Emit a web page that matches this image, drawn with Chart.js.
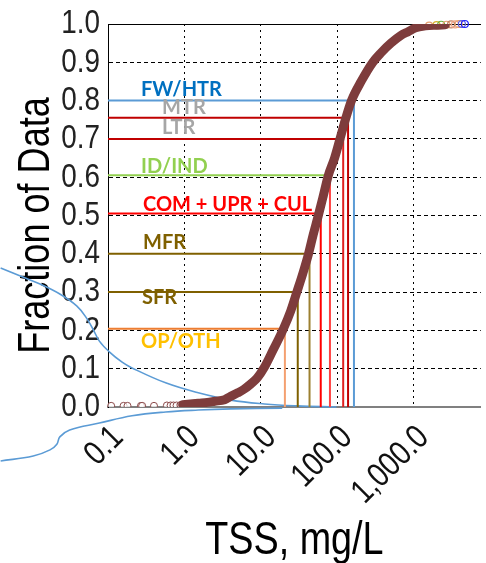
<!DOCTYPE html>
<html>
<head>
<meta charset="utf-8">
<script src="https://cdn.jsdelivr.net/npm/chart.js@4/dist/chart.umd.min.js"></script>
<style>
  html, body { margin: 0; padding: 0; background: #fff; overflow: hidden; }
  #wrap { width: 486px; height: 563px; position: relative; }
</style>
</head>
<body>
<div id="wrap"><canvas id="c" width="486" height="563"></canvas></div>
<script>
// ---- cumulative distribution of TSS (mg/L) ----
const cdfTSS  = [0.95, 1.2, 1.52, 2.0, 2.5, 3.36, 4.05, 5.0, 6.0, 7.4, 9.0, 11.1, 14.6, 19.7, 24.6, 29.8, 35.7, 42.2, 48.6, 56.7, 65.6, 76.5, 92.5, 110, 128, 154, 206, 293, 376, 506, 682, 850, 1065, 1430, 1930, 2600];
const cdfFrac = [0.006, 0.008, 0.010, 0.012, 0.015, 0.019, 0.028, 0.037, 0.046, 0.060, 0.076, 0.103, 0.150, 0.203, 0.250, 0.301, 0.350, 0.400, 0.450, 0.500, 0.550, 0.604, 0.650, 0.703, 0.750, 0.800, 0.850, 0.900, 0.925, 0.950, 0.970, 0.980, 0.990, 0.995, 0.997, 0.998];

// sparse low-concentration samples
const lowTSS  = [0.11, 0.16, 0.18, 0.27, 0.28, 0.40, 0.59, 0.66, 0.72, 0.79, 0.89, 1.02, 1.15, 1.3];
const lowFrac = [0.003, 0.003, 0.003, 0.003, 0.003, 0.003, 0.004, 0.004, 0.004, 0.004, 0.005, 0.005, 0.006, 0.007];

// high-concentration tail
const tailTSS  = [1600, 2000, 2300, 2700, 3100, 3500, 3900, 4300, 4700];
const tailFrac = [0.996, 0.997, 0.998, 0.998, 0.999, 0.999, 1.0, 1.0, 1.0];

// land-use classes and their reading levels
const classNames    = ['FW/HTR', 'MTR', 'LTR', 'ID/IND', 'COM + UPR + CUL', 'MFR', 'SFR', 'OP/OTH'];
const classFraction = [0.80, 0.755, 0.70, 0.605, 0.505, 0.40, 0.30, 0.204];
const classTSS      = [166, 139, 120, 80.5, 61.0, 43.5, 30.5, 20.7];

// callout bracket outline (data units)
const calloutUpperX = [0.00393, 0.00712, 0.0129, 0.0234, 0.0389, 0.0524, 0.0645, 0.0771, 0.104, 0.153, 0.206, 0.568, 1.52, 4.06, 11.2, 29.8, 98];
const calloutUpperY = [0.363, 0.342, 0.321, 0.295, 0.264, 0.232, 0.201, 0.172, 0.144, 0.117, 0.102, 0.063, 0.037, 0.018, 0.008, 0.003, 0.0];
const calloutLowerX = [0.00393, 0.0105, 0.0174, 0.0214, 0.0234, 0.0315, 0.0771, 0.206, 0.568, 1.52, 4.06, 19.1];
const calloutLowerY = [-0.141, -0.128, -0.112, -0.097, -0.078, -0.060, -0.042, -0.023, -0.013, -0.008, -0.005, -0.003];

// axis ticks
const xTickValues = [0.1, 1, 10, 100, 1000];
const xTickLabels = ['0.1', '1.0', '10.0', '100.0', '1,000.0'];
const yTickLabels = ['0.0', '0.1', '0.2', '0.3', '0.4', '0.5', '0.6', '0.7', '0.8', '0.9', '1.0'];

// ---- styling ----
// axis text is set in a condensed Arial-metric face: glyphs are narrowed at draw time
const NARROW = "'Liberation Sans', Arial, sans-serif";
const NARROW_FACTOR = 0.82;
(function () {
  const proto = CanvasRenderingContext2D.prototype;
  const fill = proto.fillText;
  proto.fillText = function (text, x, y, maxWidth) {
    if (this.font.indexOf('Liberation Sans') !== -1) {
      const w = this.measureText(text).width * NARROW_FACTOR;
      return fill.call(this, text, x, y, maxWidth !== undefined ? Math.min(maxWidth, w) : w);
    }
    return maxWidth !== undefined ? fill.call(this, text, x, y, maxWidth) : fill.call(this, text, x, y);
  };
})();

const LABEL_FONT = "bold 20px Lato, 'Open Sans', sans-serif";
const classStyle = [
  { line: '#5b9bd5', drop: '#5b9bd5', text: '#0070c0', dx: 33, dy: -11 },
  { line: '#c00000', drop: '#c00000', text: '#a6a6a6', dx: 54, dy: -10 },
  { line: '#c00000', drop: '#e02020', text: '#a6a6a6', dx: 54, dy: -11 },
  { line: '#92d050', drop: '#ff4040', text: '#92d050', dx: 33, dy: -9 },
  { line: '#ff0000', drop: '#ff0000', text: '#ff0000', dx: 35, dy: -9 },
  { line: '#7f6000', drop: '#9c8030', text: '#7f6000', dx: 35, dy: -11 },
  { line: '#7f6000', drop: '#7f6000', text: '#7f6000', dx: 34, dy: 5 },
  { line: '#ed7d31', drop: '#f4a070', text: '#ffc000', dx: 33, dy: 13 }
];
const tailColors = ['#e8a070', '#d9b030', '#70b040', '#e8a070', '#c08060', '#f0a080', '#e8a070', '#6060e0', '#2020ff'];

const pairs = (xs, ys) => xs.map((x, i) => ({ x: x, y: ys[i] }));

const datasets = [];

// callout outline, behind everything
datasets.push({
  data: pairs(calloutUpperX, calloutUpperY), showLine: true, borderColor: '#5b9bd5',
  borderWidth: 1.6, pointRadius: 0, tension: 0.4, clip: false, order: 3
});
datasets.push({
  data: pairs(calloutLowerX, calloutLowerY), showLine: true, borderColor: '#5b9bd5',
  borderWidth: 1.6, pointRadius: 0, tension: 0.4, clip: false, order: 3
});

// class reading lines: across from the axis, then down to zero
classNames.forEach((name, i) => {
  const st = classStyle[i];
  datasets.push({
    label: name,
    data: [
      { x: 0.1, y: classFraction[i] },
      { x: classTSS[i], y: classFraction[i] },
      { x: classTSS[i], y: 0 }
    ],
    showLine: true, pointRadius: 0, borderWidth: 2, tension: 0,
    borderColor: st.line,
    segment: { borderColor: ctx => ctx.p0DataIndex === 0 ? st.line : st.drop },
    order: 2
  });
});

// cumulative curve
datasets.push({
  label: 'CDF', data: pairs(cdfTSS, cdfFrac), showLine: true,
  borderColor: '#7e3c3c', borderWidth: 9, pointRadius: 0,
  cubicInterpolationMode: 'monotone', borderCapStyle: 'round', order: 0
});
datasets.push({
  label: 'low', data: pairs(lowTSS, lowFrac), showLine: false,
  pointRadius: 3.5, pointBorderColor: '#8b4a4a', pointBackgroundColor: 'rgba(255,255,255,0.7)',
  pointBorderWidth: 1, order: 0
});
datasets.push({
  label: 'tail', data: pairs(tailTSS, tailFrac), showLine: false,
  pointRadius: 3.5, pointBorderColor: tailColors, pointBackgroundColor: 'rgba(255,255,255,0)',
  pointBorderWidth: 1.2, order: 0, clip: false
});

// class name annotations
const classLabels = {
  id: 'classLabels',
  afterDatasetsDraw(chart) {
    const { ctx, chartArea, scales } = chart;
    ctx.save();
    ctx.font = LABEL_FONT;
    ctx.textAlign = 'left';
    ctx.textBaseline = 'middle';
    classNames.forEach((name, i) => {
      const st = classStyle[i];
      ctx.fillStyle = st.text;
      ctx.fillText(name, chartArea.left + st.dx, scales.y.getPixelForValue(classFraction[i]) + st.dy);
    });
    ctx.restore();
  }
};

const noEdgePadding = s => { s.paddingTop = 0; s.paddingBottom = 0; s.paddingLeft = 0; s.paddingRight = 0; };

new Chart(document.getElementById('c'), {
  type: 'scatter',
  data: { datasets: datasets },
  plugins: [classLabels],
  options: {
    responsive: false,
    animation: false,
    devicePixelRatio: 1,
    layout: { padding: { top: 24, right: 0, bottom: 0, left: 0 } },
    plugins: { legend: { display: false }, tooltip: { enabled: false } },
    scales: {
      x: {
        type: 'logarithmic',
        position: 'bottom',
        bounds: 'data',
        afterDataLimits: s => { s.min = 0.1; s.max = 7600; },
        afterBuildTicks: s => { s.ticks = xTickValues.map(v => ({ value: v, major: true })); },
        afterFit: s => { s.height = 156; noEdgePadding(s); },
        grid: { color: '#000', lineWidth: 1, drawTicks: false },
        border: { display: true, color: '#808080', width: 2, dash: [2, 4] },
        ticks: {
          autoSkip: false, minRotation: 45, maxRotation: 45, padding: 11, labelOffset: 10,
          color: '#111', font: { family: NARROW, size: 34 },
          callback: (v, i) => xTickLabels[i]
        },
        title: {
          display: true, text: 'TSS, mg/L', color: '#000',
          font: { family: NARROW, size: 46, lineHeight: 0.95 }, padding: { top: 0, bottom: 0 }
        }
      },
      x2: {
        type: 'linear', position: 'top', min: 0, max: 1,
        afterFit: s => { s.height = 0; noEdgePadding(s); },
        ticks: { display: false }, grid: { display: false, drawTicks: false },
        border: { display: true, color: '#000', width: 1 }
      },
      y: {
        type: 'linear', min: 0, max: 1,
        afterFit: s => { s.width = 108; noEdgePadding(s); },
        grid: { color: '#000', lineWidth: 1, drawTicks: false },
        border: { display: true, color: '#000', width: 1, dash: [4, 3] },
        ticks: {
          autoSkip: false, stepSize: 0.1, padding: 8, color: '#222',
          font: { family: NARROW, size: 34 },
          callback: (v, i) => yTickLabels[i]
        },
        title: {
          display: true, text: 'Fraction of Data  ', color: '#000',
          font: { family: NARROW, size: 44 }, padding: { top: 10, bottom: 0 }
        }
      }
    }
  }
});
</script>
</body>
</html>
